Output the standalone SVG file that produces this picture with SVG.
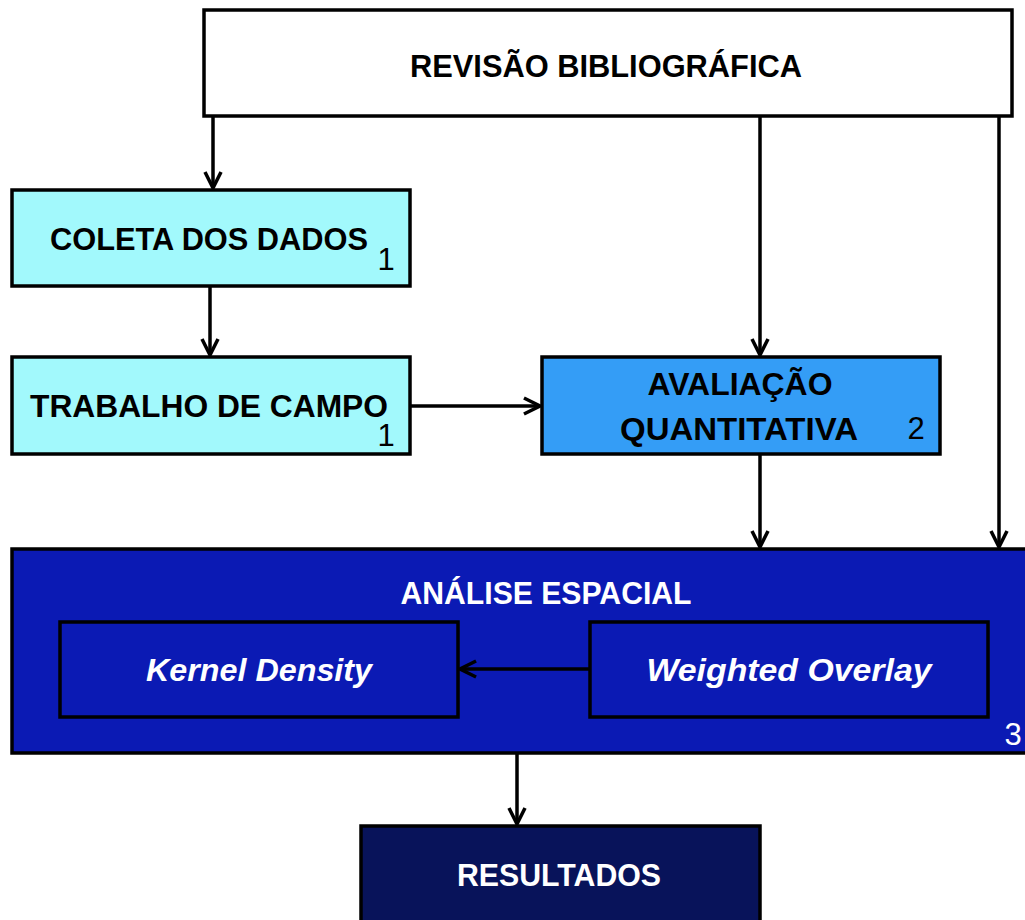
<svg xmlns="http://www.w3.org/2000/svg" width="1025" height="920" viewBox="0 0 1025 920">
<style>
.box{stroke:#000;stroke-width:3.5}
.t{font-family:"Liberation Sans",Arial,sans-serif;font-weight:bold;font-size:31px;text-anchor:middle}
.n{font-family:"Liberation Sans",Arial,sans-serif;font-size:31px;text-anchor:middle}
.w{fill:#fff}
.k{fill:#000}
.i{font-style:italic}
.c{fill:none;stroke:#000;stroke-width:3.5}
</style>
<defs>
<marker id="ah" viewBox="0 0 12 12" refX="11" refY="6" markerWidth="5.5" markerHeight="5.5" markerUnits="strokeWidth" orient="auto">
<path d="M1,1 L11,6 L1,11" fill="none" stroke="#000" stroke-width="2.2"/>
</marker>
</defs>
<rect width="1025" height="920" fill="#fff"/>
<g id="connectors">
<line class="c" x1="213" y1="116" x2="213" y2="188" marker-end="url(#ah)"/>
<line class="c" x1="760" y1="116" x2="760" y2="355" marker-end="url(#ah)"/>
<line class="c" x1="999" y1="116" x2="999" y2="547" marker-end="url(#ah)"/>
<line class="c" x1="210" y1="286" x2="210" y2="355" marker-end="url(#ah)"/>
<line class="c" x1="410" y1="406" x2="540" y2="406" marker-end="url(#ah)"/>
<line class="c" x1="760" y1="454" x2="760" y2="547" marker-end="url(#ah)"/>
<line class="c" x1="517" y1="753" x2="517" y2="824" marker-end="url(#ah)"/>
</g>
<g id="revisao">
<rect class="box" x="204" y="10" width="808" height="106" fill="#fff"/>
<text class="t k" x="606" y="77" textLength="392" lengthAdjust="spacingAndGlyphs">REVISÃO BIBLIOGRÁFICA</text>
</g>
<g id="coleta">
<rect class="box" x="12" y="190" width="398" height="96" fill="#a2f9fc"/>
<text class="t k" x="209" y="250" textLength="318" lengthAdjust="spacingAndGlyphs">COLETA DOS DADOS</text>
<text class="n k" x="386" y="270">1</text>
</g>
<g id="trabalho">
<rect class="box" x="12" y="357" width="398" height="97" fill="#a2f9fc"/>
<text class="t k" x="209" y="417" textLength="358" lengthAdjust="spacingAndGlyphs">TRABALHO DE CAMPO</text>
<text class="n k" x="386" y="446">1</text>
</g>
<g id="avaliacao">
<rect class="box" x="542" y="357" width="398" height="97" fill="#349df6"/>
<text class="t k" x="740" y="395" textLength="185" lengthAdjust="spacingAndGlyphs">AVALIAÇÃO</text>
<text class="t k" x="739" y="440" textLength="238" lengthAdjust="spacingAndGlyphs">QUANTITATIVA</text>
<text class="n k" x="916" y="439">2</text>
</g>
<g id="analise">
<rect class="box" x="12" y="549" width="1030" height="204" fill="#0b1ab4"/>
<text class="t w" x="546" y="604" textLength="291" lengthAdjust="spacingAndGlyphs">ANÁLISE ESPACIAL</text>
<text class="n w" x="1013" y="745">3</text>
</g>
<g id="kernel">
<rect class="box" x="60" y="622" width="398" height="95" fill="#0b1ab4"/>
<text class="t w i" x="259" y="681" textLength="226" lengthAdjust="spacingAndGlyphs">Kernel Density</text>
</g>
<g id="weighted">
<rect class="box" x="590" y="622" width="398" height="95" fill="#0b1ab4"/>
<text class="t w i" x="789" y="681" textLength="285" lengthAdjust="spacingAndGlyphs">Weighted Overlay</text>
</g>
<g id="connectors-inner">
<line class="c" x1="590" y1="669" x2="460" y2="669" marker-end="url(#ah)"/>
</g>
<g id="resultados">
<rect class="box" x="361" y="826" width="399" height="110" fill="#08135a"/>
<text class="t w" x="559" y="886" textLength="204" lengthAdjust="spacingAndGlyphs">RESULTADOS</text>
</g>
</svg>
